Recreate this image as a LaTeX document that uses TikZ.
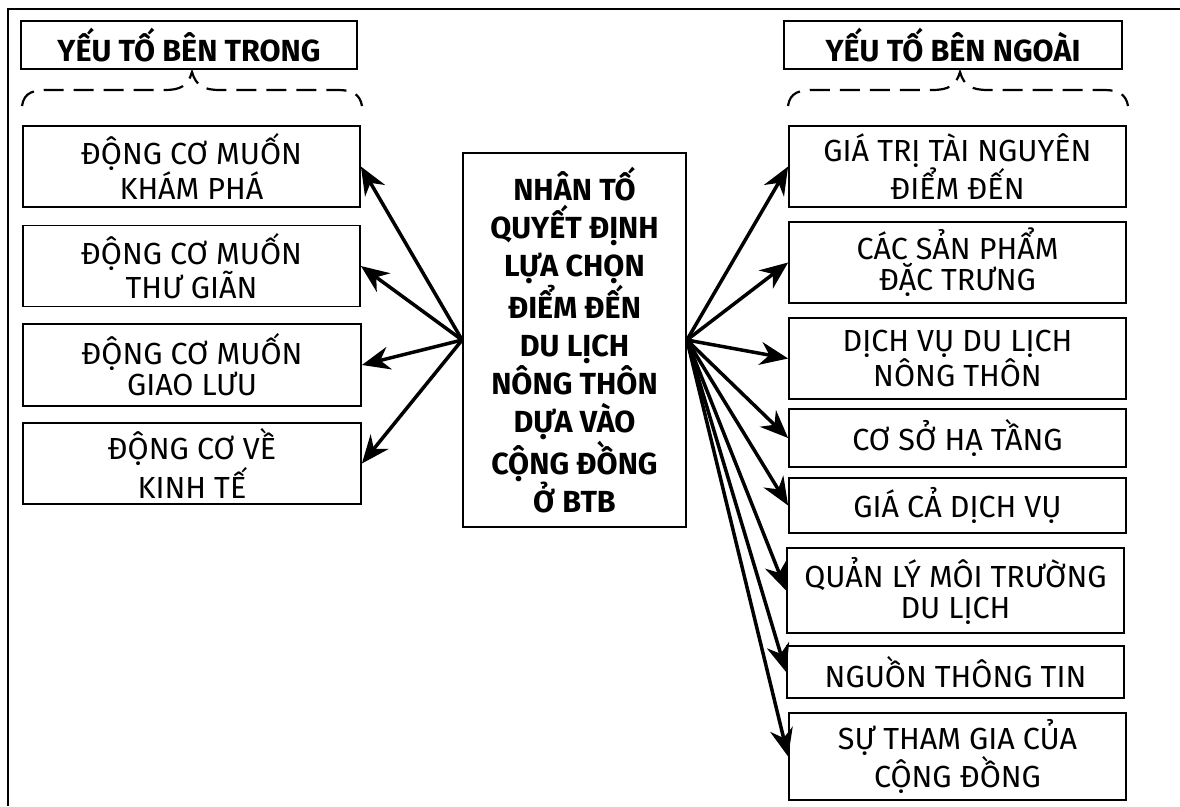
\documentclass[tikz,border=0pt]{standalone}
\usepackage{fontspec}
\setmainfont{Fira Sans}
\usetikzlibrary{arrows.meta}
\begin{document}
\begin{tikzpicture}[x=1pt,y=-1pt,
  box/.style={draw, line width=1.8pt, align=center, inner sep=0pt,
    font=\fontsize{30.5}{31}\selectfont},
  titlebox/.style={draw, line width=1.8pt, align=center, inner sep=0pt,
    font=\fontsize{30.5}{31}\selectfont\bfseries},
  centerbox/.style={draw, line width=1.8pt, align=center, inner sep=0pt,
    font=\fontsize{30.5}{38}\selectfont\bfseries},
  arr/.style={line width=3.5pt, -{Stealth[length=28pt,width=23pt,inset=9pt]}},
  brace/.style={line width=2.2pt, dash pattern=on 20pt off 10pt, line cap=butt},
  frame/.style={line width=2.5pt}]
\useasboundingbox (0,0) rectangle (1180,806);
\fill[white] (0,0) rectangle (1180,806);
% frame
\coordinate (fb) at (8,806);
\coordinate (fc) at (8,9);
\coordinate (fr) at (1180,9);
\draw[frame] (fb) -- (fc) -- (fr);
% titles
\node[titlebox, minimum width=336, minimum height=48] (tl) at (189,45) {YẾU TỐ BÊN TRONG};
\node[titlebox, minimum width=338, minimum height=48] (tr) at (953,45) {YẾU TỐ BÊN NGOÀI};
% braces
\draw[brace] (22,106) .. controls (24,92) and (34,90) .. (48,90) -- (165,90)
  .. controls (180,90) and (188,86) .. (192,72)
  .. controls (196,86) and (204,90) .. (220,90) -- (338,90)
  .. controls (352,90) and (360,94) .. (362,106);
\draw[brace] (788,106) .. controls (790,92) and (800,90) .. (814,90) -- (932,90)
  .. controls (948,90) and (956,86) .. (960,72)
  .. controls (964,86) and (972,90) .. (988,90) -- (1104,90)
  .. controls (1118,90) and (1126,94) .. (1128,106);
% left boxes
\node[box, minimum width=337, minimum height=81] (l1) at (191.5,166.5) {ĐỘNG CƠ MUỐN\\KHÁM PHÁ};
\node[box, minimum width=337, minimum height=81] (l2) at (191.5,266) {ĐỘNG CƠ MUỐN\\THƯ GIÃN};
\node[box, minimum width=338, minimum height=82] (l3) at (192,365) {ĐỘNG CƠ MUỐN\\GIAO LƯU};
\node[box, minimum width=338, minimum height=81] (l4) at (192,463.5) {ĐỘNG CƠ VỀ\\KINH TẾ};
% center
\node[centerbox, minimum width=223, minimum height=374] (c) at (574.5,340) {NHÂN TỐ\\QUYẾT ĐỊNH\\LỰA CHỌN\\ĐIỂM ĐẾN\\DU LỊCH\\NÔNG THÔN\\DỰA VÀO\\CỘNG ĐỒNG\\Ở BTB};
% right boxes
\node[box, minimum width=337, minimum height=81] (r1) at (957.5,166.5) {GIÁ TRỊ TÀI NGUYÊN\\ĐIỂM ĐẾN};
\node[box, minimum width=337, minimum height=81] (r2) at (957.5,262.5) {CÁC SẢN PHẨM\\ĐẶC TRƯNG};
\node[box, minimum width=337, minimum height=81] (r3) at (957.5,358.5) {DỊCH VỤ DU LỊCH\\NÔNG THÔN};
\node[box, minimum width=337, minimum height=58] (r4) at (957.5,438) {CƠ SỞ HẠ TẦNG};
\node[box, minimum width=337, minimum height=55] (r5) at (957.5,505.5) {GIÁ CẢ DỊCH VỤ};
\node[box, minimum width=337, minimum height=85] (r6) at (955.5,590.5) {QUẢN LÝ MÔI TRƯỜNG\\DU LỊCH};
\node[box, minimum width=337, minimum height=52] (r7) at (955.5,672) {NGUỒN THÔNG TIN};
\node[box, minimum width=337, minimum height=87] (r8) at (957.5,756.5) {SỰ THAM GIA CỦA\\CỘNG ĐỒNG};
% arrows
\foreach \n in {l1,l2,l3,l4} \draw[arr] (c.west) -- (\n.east);
\foreach \n in {r1,r2,r3,r4,r5,r6,r7,r8} \draw[arr] (c.east) -- (\n.west);
\end{tikzpicture}
\end{document}
